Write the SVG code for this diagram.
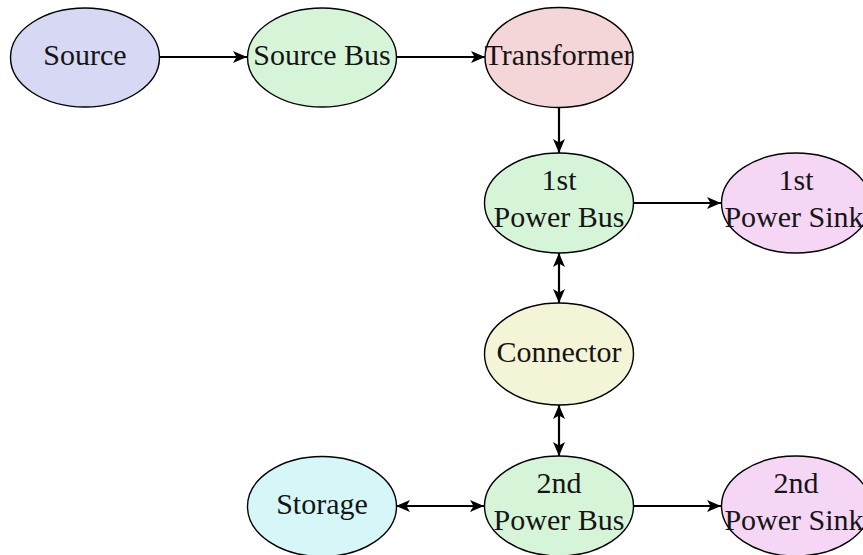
<svg xmlns="http://www.w3.org/2000/svg" width="863" height="555" viewBox="0 0 863 555">
  <style>
    .node ellipse { stroke: #000; stroke-width: 1.4; }
    .node text { font-family: "Liberation Serif", "DejaVu Serif", serif; font-size: 30px; fill: #151515; text-anchor: middle; }
    .edge { stroke: #000; stroke-width: 2.2; fill: none; }
  </style>
  <defs>
    <marker id="tip" markerUnits="userSpaceOnUse" markerWidth="18" markerHeight="16" refX="16" refY="8" orient="auto-start-reverse">
      <path d="M16,8 L2,2 L5.5,8 L2,14 Z" fill="#000"/>
    </marker>
  </defs>

  <!-- connectors -->
  <g id="connectors">
    <line class="edge" x1="160" y1="57" x2="247" y2="57" marker-end="url(#tip)"/>
    <line class="edge" x1="397" y1="57" x2="485" y2="57" marker-end="url(#tip)"/>
    <line class="edge" x1="559" y1="108" x2="559" y2="153" marker-end="url(#tip)"/>
    <line class="edge" x1="633" y1="203" x2="721" y2="203" marker-end="url(#tip)"/>
    <line class="edge" x1="559" y1="253" x2="559" y2="303" marker-start="url(#tip)" marker-end="url(#tip)"/>
    <line class="edge" x1="559" y1="405" x2="559" y2="456" marker-start="url(#tip)" marker-end="url(#tip)"/>
    <line class="edge" x1="396" y1="506" x2="484" y2="506" marker-start="url(#tip)" marker-end="url(#tip)"/>
    <line class="edge" x1="634" y1="506" x2="721" y2="506" marker-end="url(#tip)"/>
  </g>

  <g id="source" class="node">
    <ellipse cx="85" cy="57.5" rx="74.5" ry="49.5" fill="#d6d8f4"/>
    <text x="85" y="65">Source</text>
  </g>
  <g id="source-bus" class="node">
    <ellipse cx="322" cy="57.5" rx="74.5" ry="49.5" fill="#d6f5d8"/>
    <text x="322" y="65">Source Bus</text>
  </g>
  <g id="transformer" class="node">
    <ellipse cx="559" cy="57.5" rx="74" ry="50" fill="#f4d6d8"/>
    <text x="559" y="65">Transformer</text>
  </g>
  <g id="power-bus-1" class="node">
    <ellipse cx="559" cy="203" rx="74.5" ry="50" fill="#d6f5d8"/>
    <text x="559" y="190">1st</text>
    <text x="559" y="227">Power Bus</text>
  </g>
  <g id="power-sink-1" class="node">
    <ellipse cx="796" cy="203" rx="74.5" ry="50" fill="#f5d6f5"/>
    <text x="796" y="190">1st</text>
    <text x="794" y="227">Power Sink</text>
  </g>
  <g id="connector" class="node">
    <ellipse cx="559" cy="354" rx="74.5" ry="51" fill="#f4f4d6"/>
    <text x="559" y="362">Connector</text>
  </g>
  <g id="storage" class="node">
    <ellipse cx="322" cy="506.5" rx="74.5" ry="50" fill="#d6f7f8"/>
    <text x="322" y="514">Storage</text>
  </g>
  <g id="power-bus-2" class="node">
    <ellipse cx="559" cy="506" rx="74.5" ry="50" fill="#d6f5d8"/>
    <text x="559" y="493">2nd</text>
    <text x="559" y="530">Power Bus</text>
  </g>
  <g id="power-sink-2" class="node">
    <ellipse cx="796" cy="506" rx="74.5" ry="50" fill="#f5d6f5"/>
    <text x="796" y="493">2nd</text>
    <text x="794" y="530">Power Sink</text>
  </g>
</svg>
